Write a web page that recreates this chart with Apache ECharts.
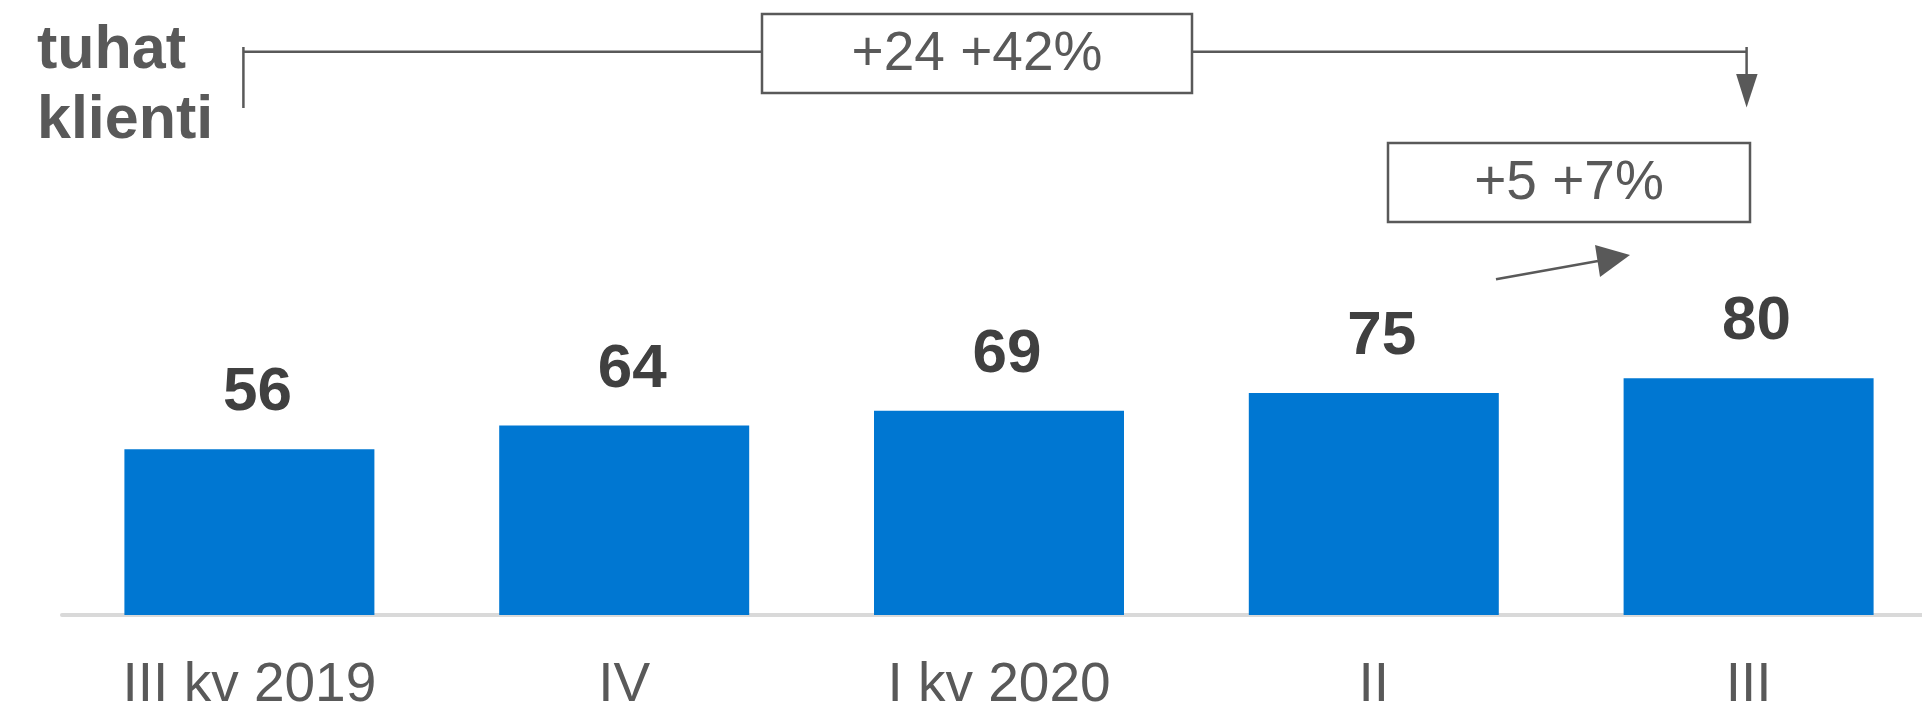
<!DOCTYPE html>
<html>
<head>
<meta charset="utf-8">
<script src="https://cdn.jsdelivr.net/npm/echarts@6/dist/echarts.min.js"></script>
<style>
  html, body { margin: 0; padding: 0; background: #fff; }
  #chart { width: 1922px; height: 712px; }
</style>
</head>
<body>
<div id="chart"></div>
<script>
const categories = ['III kv 2019', 'IV', 'I kv 2020', 'II', 'III']
const clients = [56, 64, 69, 75, 80]
const unitLabel = 'tuhat\nklienti'
const totalChange = '+24 +42%'
const lastChange = '+5 +7%'

const ink = '#595959'
const font = 'Liberation Sans, Arial, sans-serif'

const chart = echarts.init(document.getElementById('chart'))

chart.setOption({
  animation: false,
  title: {
    text: unitLabel,
    left: 37,
    top: 16,
    padding: 0,
    textStyle: { fontSize: 61, fontWeight: 'bold', lineHeight: 70, color: ink, fontFamily: font }
  },
  // the plot runs a little past the right edge of the page
  grid: { left: 62, width: 1874, top: 23, bottom: 97, outerBoundsMode: 'none', containLabel: false },
  xAxis: {
    type: 'category',
    data: categories,
    axisLine: { lineStyle: { color: '#d9d9d9', width: 4 } },
    axisTick: { show: false },
    axisLabel: { fontSize: 55, color: ink, margin: 43, fontFamily: font }
  },
  yAxis: { type: 'value', min: 0, max: 200, show: false },
  series: [{
    type: 'bar',
    data: clients,
    barWidth: 250,
    itemStyle: { color: '#0077d2' },
    label: {
      show: true,
      position: 'top',
      distance: 25,
      offset: [8, 0],
      fontSize: 62,
      fontWeight: 'bold',
      color: '#404040',
      fontFamily: font
    }
  }]
})

// annotation brackets, anchored to first and last category
const xFirst = chart.convertToPixel({ xAxisIndex: 0 }, categories[0]) - 6
const xLast = chart.convertToPixel({ xAxisIndex: 0 }, categories[categories.length - 1]) - 2
const line = (x1, y1, x2, y2) => ({
  type: 'line', shape: { x1, y1, x2, y2 }, style: { stroke: ink, lineWidth: 2.5 }
})
const box = (x, y, width, height) => ({
  type: 'rect', shape: { x, y, width, height }, style: { fill: '#fff', stroke: ink, lineWidth: 2.5 }
})
const label = (x, y, text) => ({
  type: 'text', x, y,
  style: { text, fontSize: 55, fill: ink, fontFamily: font, align: 'center', verticalAlign: 'middle' }
})
const arrowHead = points => ({ type: 'polygon', shape: { points }, style: { fill: ink } })

chart.setOption({
  graphic: [
    line(xFirst, 47, xFirst, 108),
    line(xFirst, 51.7, 762, 51.7),
    line(1192, 51.7, xLast, 51.7),
    line(xLast, 47, xLast, 76),
    arrowHead([[xLast - 10.5, 74], [xLast + 11, 74], [xLast, 107.5]]),
    box(762, 14, 430, 79),
    label(977, 55, totalChange),
    box(1388, 143, 362, 79),
    label(1569, 184, lastChange),
    line(1496, 279.3, 1598, 261),
    arrowHead([[1595, 245], [1630, 255], [1600, 277]])
  ]
})
</script>
</body>
</html>
